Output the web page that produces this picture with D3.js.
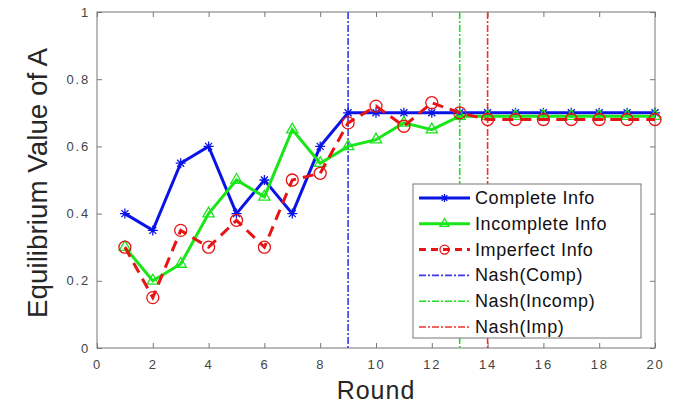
<!DOCTYPE html>
<html>
<head>
<meta charset="utf-8">
<script src="https://cdn.jsdelivr.net/npm/d3@7"></script>
<style>
  body { margin: 0; background: #fff; }
  svg { display: block; font-family: "Liberation Sans", Arial, sans-serif; }
</style>
</head>
<body>
<div id="chart"></div>
<script>
// data
var rounds = d3.range(1, 21);
var completeInfo   = [0.40, 0.35, 0.55, 0.60, 0.40, 0.50, 0.40, 0.60, 0.70, 0.70,
                      0.70, 0.70, 0.70, 0.70, 0.70, 0.70, 0.70, 0.70, 0.70, 0.70];
var incompleteInfo = [0.30, 0.20, 0.25, 0.40, 0.50, 0.45, 0.65, 0.55, 0.60, 0.62,
                      0.67, 0.65, 0.69, 0.69, 0.69, 0.69, 0.69, 0.69, 0.69, 0.69];
var imperfectInfo  = [0.30, 0.15, 0.35, 0.30, 0.38, 0.30, 0.50, 0.52, 0.67, 0.72,
                      0.66, 0.73, 0.70, 0.68, 0.68, 0.68, 0.68, 0.68, 0.68, 0.68];
var nashRounds = [9, 13, 14];
var xTicks = d3.range(0, 21, 2);
var yTicks = [0, 0.2, 0.4, 0.6, 0.8, 1];

var series = [
    {name: "Complete Info",   values: completeInfo,   color: "#0a14e6", dash: null,  marker: "star"},
    {name: "Incomplete Info", values: incompleteInfo, color: "#19e619", dash: null,  marker: "tri"},
    {name: "Imperfect Info",  values: imperfectInfo,  color: "#e61414", dash: "11,7", marker: "circle"}
];
var nash = [
    {name: "Nash(Comp)",   round: nashRounds[0], color: "#3a3ae8"},
    {name: "Nash(Incomp)", round: nashRounds[1], color: "#22dd22"},
    {name: "Nash(Imp)",    round: nashRounds[2], color: "#ee3333"}
];

var W = 680, H = 406
  , margin = {top: 12, right: 25, bottom: 58, left: 97}
  , width = W - margin.left - margin.right
  , height = H - margin.top - margin.bottom
;

var svg = d3.select("#chart").append("svg")
    .attr("width", W)
    .attr("height", H);

var x = d3.scaleLinear().domain([0, 20]).range([0, width]);
var y = d3.scaleLinear().domain([0, 1]).range([height, 0]);

var g = svg.append("g")
    .attr("transform", "translate(" + margin.left + "," + margin.top + ")");

// axes (MATLAB style: inward ticks on all four sides)
var axisColor = "#777";
function styleAxis(sel) {
    sel.select(".domain").remove();
    sel.selectAll(".tick line").attr("stroke", axisColor);
    sel.selectAll(".tick text")
        .attr("fill", "#444")
        .style("font-size", "13px")
        .style("letter-spacing", "1.8px");
}
g.append("g")
    .attr("transform", "translate(0," + height + ")")
    .call(d3.axisBottom(x).tickValues(xTicks).tickSize(-5).tickPadding(12).tickFormat(d3.format("d")))
    .call(styleAxis);
g.append("g")
    .call(d3.axisTop(x).tickValues(xTicks).tickSize(-5).tickFormat(""))
    .call(styleAxis);
g.append("g")
    .call(d3.axisLeft(y).tickValues(yTicks).tickSize(-5).tickPadding(7).tickFormat(function(d) { return d === 0 || d === 1 ? d : d.toFixed(1); }))
    .call(styleAxis);
g.append("g")
    .attr("transform", "translate(" + width + ",0)")
    .call(d3.axisRight(y).tickValues(yTicks).tickSize(-5).tickFormat(""))
    .call(styleAxis);

g.append("rect")
    .attr("width", width)
    .attr("height", height)
    .attr("fill", "none")
    .attr("stroke", axisColor)
    .attr("stroke-width", 1);

// Nash vertical lines
g.selectAll(".nash")
    .data(nash)
  .enter().append("line")
    .attr("class", "nash")
    .attr("x1", function(d) { return x(d.round); })
    .attr("x2", function(d) { return x(d.round); })
    .attr("y1", 0)
    .attr("y2", height)
    .attr("stroke", function(d) { return d.color; })
    .attr("stroke-width", 1.6)
    .attr("stroke-dasharray", "7,2,2,2");

// series lines
var line = d3.line()
    .x(function(d, i) { return x(rounds[i]); })
    .y(function(d) { return y(d); });

function drawMarker(sel, type, color, size) {
    if (type === "star") {
        var s = size;
        sel.append("path")
            .attr("d", "M" + (-s) + ",0H" + s + "M0," + (-s) + "V" + s +
                       "M" + (-s * .7) + "," + (-s * .7) + "L" + (s * .7) + "," + (s * .7) +
                       "M" + (-s * .7) + "," + (s * .7) + "L" + (s * .7) + "," + (-s * .7))
            .attr("stroke", color).attr("stroke-width", 1.3).attr("fill", "none");
    } else if (type === "tri") {
        sel.append("path")
            .attr("d", d3.symbol(d3.symbolTriangle, size * size * 2.2))
            .attr("stroke", color).attr("stroke-width", 1.3).attr("fill", "none");
    } else {
        sel.append("circle")
            .attr("r", size)
            .attr("stroke", color).attr("stroke-width", 1.3).attr("fill", "none");
    }
}

series.forEach(function(s) {
    g.append("path")
        .datum(s.values)
        .attr("d", line)
        .attr("fill", "none")
        .attr("stroke", s.color)
        .attr("stroke-width", 3)
        .attr("stroke-dasharray", s.dash);
    g.selectAll(".m-" + s.marker)
        .data(s.values)
      .enter().append("g")
        .attr("class", "m-" + s.marker)
        .attr("transform", function(d, i) { return "translate(" + x(rounds[i]) + "," + y(d) + ")"; })
        .each(function() { drawMarker(d3.select(this), s.marker, s.color, s.marker === "circle" ? 6 : 5); });
});

// axis labels
svg.append("text")
    .attr("x", margin.left + x(10))
    .attr("y", 399)
    .attr("text-anchor", "middle")
    .attr("fill", "#262626")
    .style("font-size", "25px")
    .style("letter-spacing", "1px")
    .text("Round");

svg.append("text")
    .attr("transform", "translate(47," + (margin.top + height / 2 + 3) + ") rotate(-90)")
    .attr("text-anchor", "middle")
    .attr("fill", "#262626")
    .attr("textLength", 270)
    .attr("lengthAdjust", "spacingAndGlyphs")
    .style("font-size", "28px")
    .text("Equilibrium Value of A");

// legend
var legend = svg.append("g").attr("transform", "translate(413,184)");
legend.append("rect")
    .attr("width", 228)
    .attr("height", 154)
    .attr("fill", "#fff")
    .attr("stroke", "#777")
    .attr("stroke-width", 1);

var legendItems = series.map(function(s) { return {name: s.name, color: s.color, dash: s.dash, marker: s.marker, w: 3}; })
    .concat(nash.map(function(n) { return {name: n.name, color: n.color, dash: "7,2,2,2", marker: null, w: 1.6}; }));

var row = legend.selectAll(".row")
    .data(legendItems)
  .enter().append("g")
    .attr("class", "row")
    .attr("transform", function(d, i) { return "translate(0," + (14 + i * 25.8) + ")"; });

row.append("line")
    .attr("x1", 6).attr("x2", 57)
    .attr("stroke", function(d) { return d.color; })
    .attr("stroke-width", function(d) { return d.w; })
    .attr("stroke-dasharray", function(d) { return d.dash === "11,7" ? "7,5" : d.dash; });
row.each(function(d) {
    if (d.marker) {
        var m = d3.select(this).append("g").attr("transform", "translate(31.5,0)");
        drawMarker(m, d.marker, d.color, d.marker === "circle" ? 4.5 : 4);
    }
});
row.append("text")
    .attr("x", 62)
    .attr("y", 6)
    .attr("fill", "#111")
    .style("font-size", "18px")
    .style("letter-spacing", "0.6px")
    .text(function(d) { return d.name; });
</script>
</body>
</html>
